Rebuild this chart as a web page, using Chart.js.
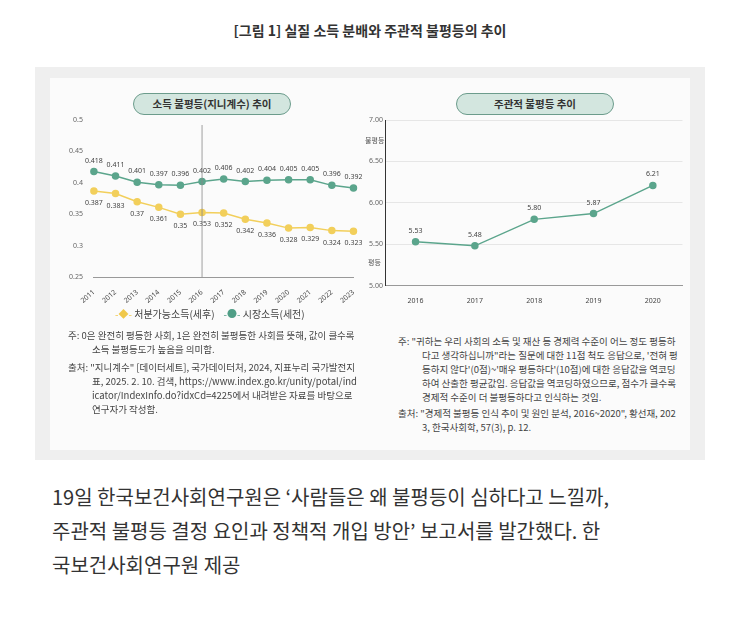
<!DOCTYPE html>
<html><head><meta charset="utf-8">
<script src="https://cdn.jsdelivr.net/npm/chart.js@4"></script>
<style>
body{margin:0;width:740px;height:628px;background:#fff;font-family:"Noto Sans CJK KR","Noto Sans",sans-serif;position:relative;overflow:hidden}
.abs{position:absolute}
#title{left:0;width:740px;top:20px;text-align:center;font-size:14px;font-weight:bold;color:#333}
#panel{left:35px;top:67px;width:670px;height:393px;background:#efefef}
#inner{left:50px;top:78px;width:640px;height:372px;background:#fbfbfb}
.pill{height:20px;border:1px solid #6c9c8c;border-radius:11px;background:#d3e6df;text-align:center;font-size:10.5px;font-weight:bold;line-height:20px;color:#333}
.note{font-size:9.5px;color:#444;line-height:14px;word-break:break-all}
.note div{padding-left:24px;text-indent:-24px}
#cap{left:52px;top:480px;width:700px;font-size:20px;line-height:34px;color:#333;white-space:nowrap}
</style></head><body>
<div id="title" class="abs">[그림 1] 실질 소득 분배와 주관적 불평등의 추이</div>
<div id="panel" class="abs"></div>
<div id="inner" class="abs"></div>
<div class="abs pill" style="left:133px;top:93px;width:156px">소득 불평등(지니계수) 추이</div>
<div class="abs pill" style="left:456px;top:93px;width:156px">주관적 불평등 추이</div>
<div class="abs" style="left:66px;top:108px;width:296px;height:200px"><canvas id="c1" width="296" height="200"></canvas></div>
<div class="abs" style="left:362px;top:108px;width:326px;height:200px"><canvas id="c2" width="326" height="200"></canvas></div>
<div class="abs" style="left:365px;top:135px;font-size:7px;color:#555">불평등</div>
<div class="abs" style="left:368px;top:257px;font-size:7px;color:#555">평등</div>
<div class="abs" style="left:115px;top:306px;font-size:10px;color:#444"><span style="color:#f0c84a">-◆-</span> 처분가능소득(세후) &nbsp;&nbsp;&nbsp;<span style="color:#4f9e86">-●-</span> 시장소득(세전)</div>
<div class="abs note" style="left:68px;top:328px;width:290px">
<div>주: 0은 완전히 평등한 사회, 1은 완전히 불평등한 사회를 뜻해, 값이 클수록 소득 불평등도가 높음을 의미함.</div>
<div style="margin-top:4px">출처: "지니계수" [데이터세트], 국가데이터처, 2024, 지표누리 국가발전지표, 2025. 2. 10. 검색, https://www.index.go.kr/unity/potal/indicator/IndexInfo.do?idxCd=4225에서 내려받은 자료를 바탕으로 연구자가 작성함.</div></div>
<div class="abs note" style="left:398px;top:334px;width:280px">
<div>주: "귀하는 우리 사회의 소득 및 재산 등 경제력 수준이 어느 정도 평등하다고 생각하십니까"라는 질문에 대한 11점 척도 응답으로, '전혀 평등하지 않다'(0점)~'매우 평등하다'(10점)에 대한 응답값을 역코딩하여 산출한 평균값임. 응답값을 역코딩하였으므로, 점수가 클수록 경제적 수준이 더 불평등하다고 인식하는 것임.</div>
<div style="margin-top:2px">출처: "경제적 불평등 인식 추이 및 원인 분석, 2016~2020", 황선재, 2023, 한국사회학, 57(3), p. 12.</div></div>
<div id="cap" class="abs">19일 한국보건사회연구원은 ‘사람들은 왜 불평등이 심하다고 느낄까,<br>주관적 불평등 결정 요인과 정책적 개입 방안’ 보고서를 발간했다. 한<br>국보건사회연구원 제공</div>
<script>
const years1=['2011','2012','2013','2014','2015','2016','2017','2018','2019','2020','2021','2022','2023'];
const market=[0.418,0.411,0.401,0.397,0.396,0.402,0.406,0.402,0.404,0.405,0.405,0.396,0.392];
const disposable=[0.387,0.383,0.37,0.361,0.35,0.353,0.352,0.342,0.336,0.328,0.329,0.324,0.323];
const years2=['2016','2017','2018','2019','2020'];
const subjective=[5.53,5.48,5.80,5.87,6.21];
const GREEN='#5ba58c',YEL='#f2cf5b',TXT='#444',F={size:7,family:'Noto Sans'};
const labels={id:'lbl',afterDatasetsDraw(c,a,o){const ctx=c.ctx;ctx.save();ctx.font='7px Noto Sans';ctx.fillStyle=TXT;ctx.textAlign='center';
c.data.datasets.forEach((d,i)=>{c.getDatasetMeta(i).data.forEach((p,j)=>{const v=d.data[j];const t=d.fmt?d.fmt(v):String(v);ctx.fillText(t,p.x,p.y+(d.below?14:-9));});});
if(o.vline!=null){const x=c.scales.x.getPixelForValue(o.vline);ctx.strokeStyle='#888';ctx.lineWidth=0.8;ctx.beginPath();ctx.moveTo(x,c.scales.y.top+5);ctx.lineTo(x,c.scales.y.bottom);ctx.stroke();}
ctx.restore();}};
new Chart(c1,{type:'line',data:{labels:years1,datasets:[
{data:market,borderColor:GREEN,backgroundColor:GREEN,pointRadius:3,borderWidth:1.5},
{data:disposable,borderColor:YEL,backgroundColor:YEL,pointRadius:3,borderWidth:1.5,below:true}]},
options:{responsive:false,animation:false,layout:{padding:{top:12}},plugins:{legend:{display:false},tooltip:{enabled:false},lbl:{vline:5}},
scales:{x:{grid:{display:false},border:{color:'#999'},ticks:{font:F,color:TXT}},
y:{min:0.25,max:0.5,ticks:{stepSize:0.05,font:F,color:'#666',callback:v=>String(+v.toFixed(2))},grid:{display:false},border:{display:false}}}},plugins:[labels]});
new Chart(c2,{type:'line',data:{labels:years2,datasets:[
{data:subjective,borderColor:GREEN,backgroundColor:GREEN,pointRadius:3,borderWidth:1.5,fmt:v=>v.toFixed(2)}]},
options:{responsive:false,animation:false,layout:{padding:{top:12,left:4}},plugins:{legend:{display:false},tooltip:{enabled:false},lbl:{}},
scales:{x:{offset:true,grid:{display:false},border:{color:'#999'},ticks:{font:F,color:TXT}},
y:{min:5,max:7,ticks:{stepSize:0.5,font:F,color:'#666',callback:v=>v.toFixed(2)},grid:{color:'#e6e6e6',drawTicks:false},border:{color:'#333'}}}},plugins:[labels]});
</script></body></html>
